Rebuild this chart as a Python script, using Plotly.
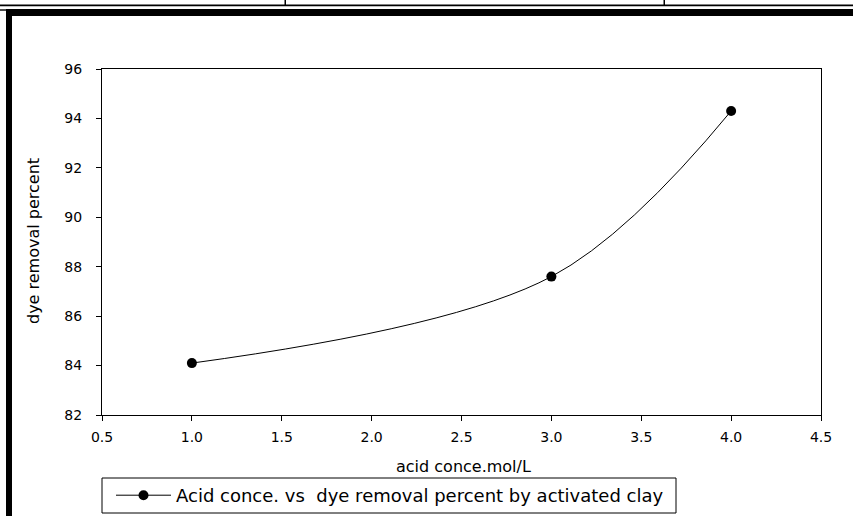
import plotly.graph_objects as go

acid_conc = [1.0, 3.0, 4.0]
dye_removal = [84.1, 87.6, 94.3]
series_name = "Acid conce. vs  dye removal percent by activated clay"
x_title = "acid conce.mol/L"
y_title = "dye removal percent"
x_ticks = [0.5, 1.0, 1.5, 2.0, 2.5, 3.0, 3.5, 4.0, 4.5]
y_ticks = [82, 84, 86, 88, 90, 92, 94, 96]

W, H = 853, 516
L, R, T, B = 102, 821, 69, 415

def px(x):
    return (x - L) / (R - L)

def py(y):
    return (B - y) / (B - T)

fig = go.Figure()
fig.add_trace(go.Scatter(
    x=acid_conc, y=dye_removal, mode="lines+markers", name=series_name,
    line=dict(color="black", width=1, shape="spline", smoothing=1),
    marker=dict(color="black", size=10, symbol="circle"),
))

font = "DejaVu Sans, Liberation Sans, Arial, sans-serif"
shapes = []
def rect(x0, y0, x1, y1):
    shapes.append(dict(type="rect", xref="paper", yref="paper",
                       x0=px(x0), x1=px(x1), y0=py(y0), y1=py(y1),
                       fillcolor="black", line=dict(width=0), layer="above"))

rect(0, 4.5, W, 6.2)
rect(6, 9, W, 16)
rect(0, 9.3, 6, 10.7)
rect(6, 9, 12, H)
rect(284.5, 0, 286, 5)
rect(663.5, 0, 665, 5)
# legend frame
shapes.append(dict(type="rect", xref="paper", yref="paper",
                   x0=px(102), x1=px(676), y0=py(478), y1=py(513),
                   line=dict(color="black", width=1), fillcolor="rgba(0,0,0,0)"))

annotations = [
    dict(text=x_title, xref="paper", yref="paper", x=px(463), y=py(466),
         xanchor="center", yanchor="middle", showarrow=False,
         font=dict(size=16, family=font, color="black")),
    dict(text=y_title, xref="paper", yref="paper", x=px(33), y=py(241),
         xanchor="center", yanchor="middle", showarrow=False, textangle=-90,
         font=dict(size=16, family=font, color="black")),
]

fig.update_layout(
    width=W, height=H,
    margin=dict(l=L, r=W - R, t=T, b=H - B, autoexpand=False),
    paper_bgcolor="white", plot_bgcolor="white",
    font=dict(family=font, color="black", size=14),
    showlegend=True,
    legend=dict(xref="container", yref="container",
                x=111 / W, xanchor="left", y=(H - 495.5) / H, yanchor="middle",
                borderwidth=0, bgcolor="rgba(0,0,0,0)", itemwidth=55,
                font=dict(size=18, family=font)),
    shapes=shapes,
    annotations=annotations,
    xaxis=dict(range=[0.5, 4.5], tickvals=x_ticks,
               ticktext=[f"{v:.1f}" for v in x_ticks], automargin=False,
               showgrid=False, zeroline=False, showline=True, linecolor="black",
               linewidth=1, mirror=True, ticks="outside", ticklen=5, tickcolor="black",
               tickfont=dict(size=14), ticklabelstandoff=4),
    yaxis=dict(range=[82, 96], tickvals=y_ticks, automargin=False,
               showgrid=False, zeroline=False, showline=True, linecolor="black",
               linewidth=1, mirror=True, ticks="outside", ticklen=5, tickcolor="black",
               tickfont=dict(size=14), ticklabelstandoff=11),
)

fig.write_html("out.html", config={"displayModeBar": False},
               post_script="document.body.style.margin='0';")
